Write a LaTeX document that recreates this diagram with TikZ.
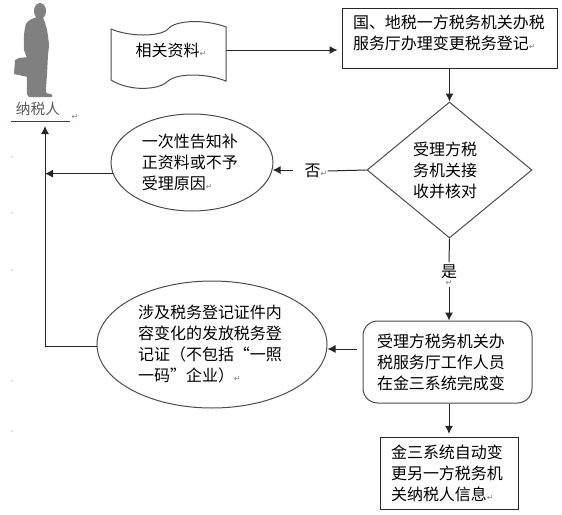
\documentclass[tikz,border=0pt]{standalone}
\usepackage{xcolor}
\usepackage{fontspec}
\setmainfont{Noto Sans CJK SC}
\newfontfamily\markfont{DejaVu Sans}
\usepackage{tikz}
\usetikzlibrary{arrows.meta,shapes.geometric}
\newcommand{\parmark}{{\markfont\fontsize{6}{6}\selectfont\textcolor{gray}{↵}}}
\tikzset{
    txt/.style={font=\fontsize{12}{15.75}\selectfont, align=left, inner sep=0pt},
    boxnode/.style={txt, draw=black!85, line width=0.75pt},
    ovalnode/.style={txt, draw=black!70, line width=0.75pt, ellipse},
    conn/.style={draw=black!85, line width=0.75pt},
    arrowconn/.style={conn, -{Latex[length=6pt,width=6pt]}}
}

\begin{document}
\begin{tikzpicture}[x=0.75pt, y=-0.75pt]
    \useasboundingbox (0,0) rectangle (562,515);

    % Taxpayer figure
    \fill[gray] (40,11) ellipse [x radius=6, y radius=8];
    \fill[gray] plot[smooth cycle, tension=0.45] coordinates {(37,17) (30,20) (26,24) (24,35) (24,50) (27,58) (27,75) (27,94) (30,97) (40,97) (52,97) (51,94) (46,92) (47,75) (48,55) (49,45) (47,30) (44,20) (42,16)};
    \fill[gray] (14,74) -- (15,60) -- (19,58) -- (28,57) -- (28,77) -- cycle;
    \node[txt, font=\fontsize{11}{13}\selectfont, text=black!65] (taxpayer) at (38,109) {纳税人};
    \node[inner sep=0pt] (taxmark) at (75,117) {\parmark};
    \coordinate (lineleft) at (11,121);
    \coordinate (lineright) at (70,121);
    \draw[teal!70!black, line width=0.6pt] (lineleft) -- (lineright);

    % Stray dots on the left
    \foreach \y in {157,213,270,381,431}
        \fill[black!50] (12,\y) circle (0.4pt);

    % Wavy document
    \draw[draw=black!70, line width=0.75pt] (111,29) .. controls (130,37) and (160,37) .. (168,29) .. controls (175,20) and (205,19) .. (226,27) -- (226,81) .. controls (205,73) and (178,73) .. (168,81) .. controls (160,90) and (130,92) .. (111,80) -- cycle;
    \node[txt, minimum width=82.5pt, minimum height=30pt, align=center] (docu) at (171,50) {相关资料\parmark};

    % Boxes
    \node[boxnode, text width=144.75pt, text depth=24pt, minimum width=161.25pt, minimum height=45pt] (taxhall) at (449.5,38) {国、地税一方税务机关办税\\服务厅办理变更税务登记\parmark};
    \node[txt, text width=54.75pt, draw=black!70, line width=0.75pt, diamond, minimum width=123.75pt, minimum height=102pt] (check) at (449.5,170) {受理方税\\务机关接\\收并核对};
    \node[ovalnode, text width=75pt, minimum width=121.5pt, minimum height=72.75pt] (notify) at (192,162.5) {一次性告知补\\正资料或不予\\受理原因\parmark};
    \node[ovalnode, text width=111pt, minimum width=172.5pt, minimum height=95.25pt] (issue) at (212,344.5) {涉及税务登记证件内\\容变化的发放税务登\\记证（不包括“一照\\一码”企业）\parmark};
    \node[boxnode, text width=105.75pt, draw=black!70, rounded corners=11pt, minimum width=126.75pt, minimum height=61.5pt] (clerk) at (447.5,362) {受理方税务机关办\\税服务厅工作人员\\在金三系统完成变};
    \node[boxnode, text width=87pt, minimum width=103.5pt, minimum height=54pt] (autosync) at (449,473) {金三系统自动变\\更另一方税务机\\关纳税人信息\parmark};

    % Branch labels
    \node[txt] (no) at (316,171) {否\parmark};
    \node[txt] (yes) at (449,272) {是};
    \node[inner sep=0pt] (yesmark) at (449,283) {\parmark};

    % Free ends
    \coordinate (nogap) at (293,170);
    \coordinate (clerkgap) at (357,349);
    \coordinate (trunktop) at (45,126);

    % Connectors
    \draw[arrowconn, shorten >=3pt] (docu.east) -- (docu.east -| taxhall.west);
    \draw[arrowconn] (taxhall.south) -- (check.north);
    \draw[conn] (check.west) -- (no.east);
    \draw[arrowconn] (nogap) -- (nogap -| notify.355);
    \draw[conn] (check.south) -- ([yshift=2pt]yes.north);
    \draw[arrowconn] ([yshift=-1pt]yesmark.south) -- (yesmark.south |- clerk.north);
    \draw[arrowconn] (clerkgap) -- (clerkgap -| issue.east);
    \draw[arrowconn] (clerk.south -| autosync.north) -- ([yshift=2pt]autosync.north);
    \draw[arrowconn] (notify.188) -- (notify.188 -| trunktop);
    \draw[arrowconn] (issue.181) -- (issue.181 -| trunktop) -- (trunktop);
\end{tikzpicture}
\end{document}
